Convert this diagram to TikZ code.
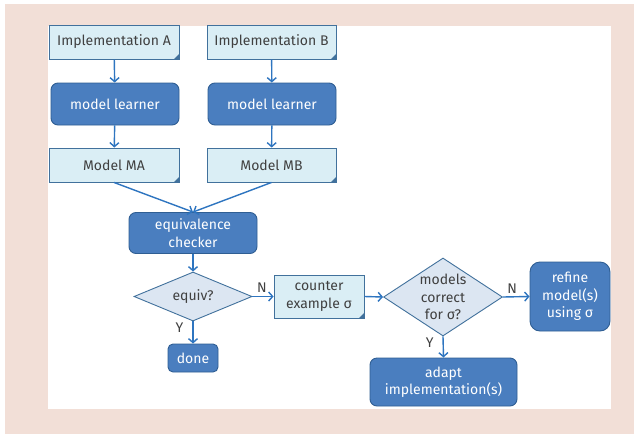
\documentclass[tikz,border=0pt]{standalone}
\usepackage{fontspec}
\setmainfont{Fira Sans}
\usepackage{xcolor}
\usetikzlibrary{shapes.geometric,arrows.meta}

\definecolor{bgpink}{HTML}{F2DFD7}
\definecolor{docfill}{HTML}{DAEEF5}
\definecolor{docline}{HTML}{41719C}
\definecolor{procfill}{HTML}{4A7EBF}
\definecolor{procline}{HTML}{2F5E93}
\definecolor{decfill}{HTML}{DCE6F2}
\definecolor{flowline}{HTML}{2E75C0}
\definecolor{txtgray}{HTML}{404040}

\tikzset{
  every node/.style={font=\fontsize{14}{17.5}\selectfont},
  doc/.style={draw=docline, fill=docfill, text=txtgray, line width=0.9pt,
    inner sep=0pt, align=center,
    path picture={\fill[docline] ([xshift=-5pt]path picture bounding box.south east)
      -- (path picture bounding box.south east)
      -- ([yshift=5pt]path picture bounding box.south east) -- cycle;}},
  proc/.style={draw=procline, fill=procfill, text=white, line width=0.9pt,
    rounded corners=7pt, inner sep=0pt, align=center},
  decision/.style={diamond, draw=docline, fill=decfill, text=txtgray,
    line width=0.9pt, inner sep=-10pt, align=center},
  flow/.style={draw=flowline, line width=1.4pt, -{Straight Barb[length=4pt,width=9pt]}},
  answer/.style={text=txtgray, inner sep=3pt}
}

\begin{document}
\begin{tikzpicture}[x=1pt, y=-1pt]
    \useasboundingbox (0,0) rectangle (634,434);
    \fill[bgpink] (5,4) rectangle (634,434);
    \fill[white] (48,26) rectangle (611,409);

    % inputs and learners
    \node[doc, minimum width=130pt, minimum height=34pt] (implA) at (114,42) {Implementation A};
    \node[doc, minimum width=129pt, minimum height=34pt] (implB) at (271.5,42) {Implementation B};
    \node[proc, minimum width=128pt, minimum height=42pt] (learnA) at (115,104) {model learner};
    \node[proc, minimum width=128pt, minimum height=42pt] (learnB) at (272,104) {model learner};
    \node[doc, minimum width=130pt, minimum height=34pt] (modelA) at (114,165) {Model MA};
    \node[doc, minimum width=129pt, minimum height=34pt] (modelB) at (271.5,165) {Model MB};

    % checking
    \node[proc, minimum width=128pt, minimum height=41pt] (checker) at (193,233) {equivalence\\checker};
    \node[decision, minimum width=118pt, minimum height=49pt] (equiv) at (193,296.5) {equiv?};
    \node[proc, minimum width=50pt, minimum height=28pt, rounded corners=5pt] (done) at (193,358) {done};
    \node[doc, minimum width=90pt, minimum height=43pt] (counter) at (319,296.5) {counter\\example σ};
    \node[decision, minimum width=119pt, minimum height=78pt] (correct) at (443,297) {models\\correct\\for σ?};
    \node[proc, minimum width=80pt, minimum height=69pt, rounded corners=10pt] (refine) at (570,296.5) {refine\\model(s)\\using σ};
    \node[proc, minimum width=147pt, minimum height=48pt] (adapt) at (443.5,382) {adapt\\implementation(s)};

    \draw[flow] (implA) -- (learnA);
    \draw[flow] (implB) -- (learnB);
    \draw[flow] (learnA) -- (modelA);
    \draw[flow] (learnB) -- (modelB);
    \draw[flow] (modelA.south) -- (checker.north);
    \draw[flow] (modelB.south) -- (checker.north);
    \draw[flow] (checker) -- (equiv);
    \draw[flow] (equiv.east) -- node[answer, pos=0.45, above] {N} (counter.west);
    \draw[flow] (equiv.south) -- node[answer, pos=0.3, left=6pt] {Y} (done.north);
    \draw[flow] (counter.east) -- (correct.west);
    \draw[flow] (correct.east) -- node[answer, pos=0.35, above] {N} (refine.west);
    \draw[flow] (correct.south) -- node[answer, pos=0.3, left=6pt] {Y} (adapt.north);
\end{tikzpicture}
\end{document}
